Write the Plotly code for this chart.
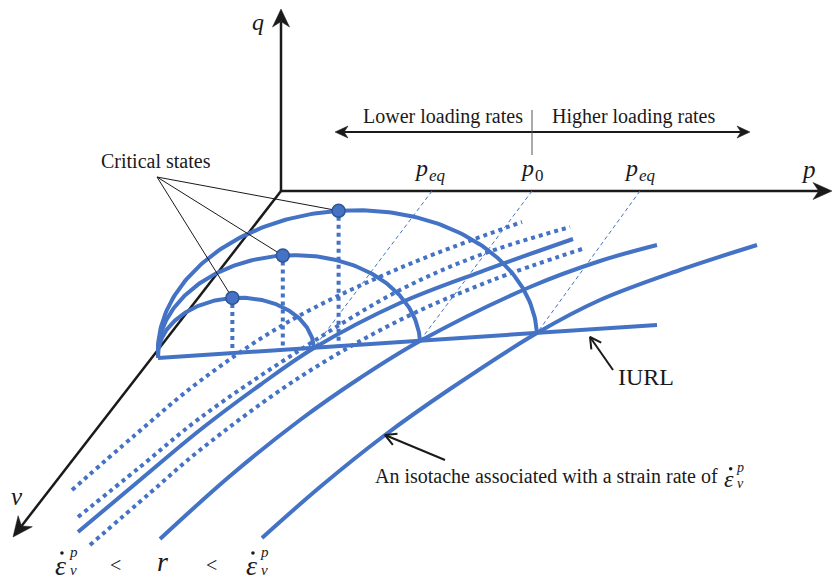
import numpy as np
import plotly.graph_objects as go

W, H = 833, 581
BLUE = "#4472C4"
BLUE_EDGE = "#2F5597"
INK = "#1a1a1a"
SERIF = "Liberation Serif"

# ---------------- geometry (screen units, y grows downward) ----------------
ORIGIN = [281, 191]
Q_TIP = [281, 9]
P_TIP = [832, 191]
V_TIP = [13, 537]

# isotropic unloading-reloading line
IURL_X = [158, 657]
IURL_Y = [358, 325]

# yield surfaces: right ends on the IURL and their heights (q direction)
SURFACE_RIGHT_X = [314, 420, 537]
SURFACE_HEIGHT = [55, 94, 135]

# reference pressures on the p axis
P_MARK_X = [432, 532, 640]
P_SYMBOL_X = [421, 527, 631]
P_SUB_TEXT = ["<i>eq</i>", "0", "<i>eq</i>"]

# solid isotaches
ISO_A_X = [78, 140, 200, 260, 314, 400, 480, 573]
ISO_A_Y = [532, 480, 430, 385, 348, 303, 272, 239]
ISO_B_X = [160, 230, 300, 360, 420, 530, 600, 657]
ISO_B_Y = [539, 476, 420, 378, 341, 287, 261, 245]
ISO_C_X = [262, 320, 385, 450, 537, 600, 680, 757]
ISO_C_Y = [538, 487, 435, 389, 333, 300, 270, 245]

# dotted isotaches
DOT_TOP_X = [72, 135, 200, 288, 400, 522]
DOT_TOP_Y = [490, 435, 381, 322, 268, 222]
DOT_MID_X = [78, 140, 200, 300, 400, 480, 570]
DOT_MID_Y = [517, 467, 418, 350, 290, 255, 227]
DOT_LOW_X = [90, 150, 200, 300, 400, 490, 582]
DOT_LOW_Y = [545, 493, 450, 377, 320, 281, 249]

# loading-rate arrow and divider
RATE_X = [335, 750]
RATE_Y = 132
DIVIDER_X = 532
DIVIDER_Y = [110, 155]

# callouts
CRIT_LABEL = [156, 161]
CRIT_APEX = [157, 177]
IURL_ARROW = [[613, 370], [590, 337]]
ISO_ARROW = [[445, 460], [385, 435]]

# strain-rate ordering along the bottom
RATE_SYMBOL_X = [60, 251]
LESS_X = [115, 211]
R_X = 162

fig = go.Figure()


def add_line(xs, ys, color=BLUE, width=4, dash=None, shape="linear"):
    fig.add_trace(go.Scatter(
        x=list(xs), y=list(ys), mode="lines", hoverinfo="skip", showlegend=False,
        line=dict(color=color, width=width, dash=dash, shape=shape, smoothing=1.0)))


def unit(a, b):
    v = np.array(b, float) - np.array(a, float)
    return v / np.hypot(*v)


def stealth_head(tail, tip, length, half_w, notch=0.3, color=INK):
    d = unit(tail, tip)
    p = np.array([-d[1], d[0]])
    t = np.array(tip, float)
    pts = [t, t - length * d + half_w * p, t - (1 - notch) * length * d,
           t - length * d - half_w * p, t]
    fig.add_trace(go.Scatter(
        x=[q[0] for q in pts], y=[q[1] for q in pts], mode="lines", fill="toself",
        fillcolor=color, line=dict(color=color, width=0.5),
        hoverinfo="skip", showlegend=False))
    return t - (1 - notch) * length * d


def arrow(tail, tip, width=2.5, length=18, half_w=8.5):
    base = stealth_head(tail, tip, length, half_w)
    add_line([tail[0], base[0]], [tail[1], base[1]], color=INK, width=width)


def open_arrow(tail, tip, width=2, length=11, half_w=6):
    d = unit(tail, tip)
    p = np.array([-d[1], d[0]])
    t = np.array(tip, float)
    a = t - length * d + half_w * p
    b = t - length * d - half_w * p
    add_line([tail[0], tip[0]], [tail[1], tip[1]], color=INK, width=width)
    add_line([a[0], t[0], b[0]], [a[1], t[1], b[1]], color=INK, width=width)


def iurl_y(x):
    return float(np.interp(x, IURL_X, IURL_Y))


def surface(x_right, height, n=160):
    xl, yl = IURL_X[0], IURL_Y[0]
    xr, yr = x_right, iurl_y(x_right)
    cx, cy = (xl + xr) / 2, (yl + yr) / 2
    a = np.hypot(xr - xl, yr - yl) / 2
    ux, uy = (xr - xl) / (2 * a), (yr - yl) / (2 * a)
    nx, ny = uy, -ux
    t = np.linspace(0, np.pi, n)
    xs = cx - a * np.cos(t) * ux + height * np.sin(t) * nx
    ys = cy - a * np.cos(t) * uy + height * np.sin(t) * ny
    return xs, ys, (cx + height * nx, cy + height * ny)


# ---------------- axes ----------------
arrow(ORIGIN, Q_TIP)
arrow(ORIGIN, P_TIP, length=19)
arrow(ORIGIN, V_TIP, length=20, half_w=9)

# ---------------- projections from the p axis ----------------
for px, rx in zip(P_MARK_X, SURFACE_RIGHT_X):
    add_line([px, rx], [ORIGIN[1], iurl_y(rx)], width=1, dash="4px,3px")

# ---------------- isotaches ----------------
for xs, ys in [(DOT_TOP_X, DOT_TOP_Y), (DOT_MID_X, DOT_MID_Y), (DOT_LOW_X, DOT_LOW_Y)]:
    add_line(xs, ys, dash="dot", shape="spline")
for xs, ys in [(ISO_A_X, ISO_A_Y), (ISO_B_X, ISO_B_Y), (ISO_C_X, ISO_C_Y)]:
    add_line(xs, ys, shape="spline")

# ---------------- IURL ----------------
add_line(IURL_X, IURL_Y)

# ---------------- yield surfaces and critical states ----------------
apexes = []
for rx, h in zip(SURFACE_RIGHT_X, SURFACE_HEIGHT):
    xs, ys, apex = surface(rx, h)
    add_line(xs, ys)
    apexes.append(apex)
    add_line([apex[0], apex[0]], [apex[1] + 6, iurl_y(apex[0])], dash="dot")

for ax_, ay_ in apexes:
    add_line([CRIT_APEX[0], ax_], [CRIT_APEX[1], ay_], color=INK, width=1)

fig.add_trace(go.Scatter(
    x=[a[0] for a in apexes], y=[a[1] for a in apexes], mode="markers",
    marker=dict(size=13, color=BLUE, line=dict(color=BLUE_EDGE, width=1.5)),
    hoverinfo="skip", showlegend=False))

# ---------------- loading-rate arrow ----------------
lb = stealth_head([RATE_X[1], RATE_Y], [RATE_X[0], RATE_Y], 13, 6)
rb = stealth_head([RATE_X[0], RATE_Y], [RATE_X[1], RATE_Y], 13, 6)
add_line([lb[0], rb[0]], [RATE_Y, RATE_Y], color=INK, width=2)
add_line([DIVIDER_X, DIVIDER_X], DIVIDER_Y, color="#555555", width=1)

# ---------------- callout arrows ----------------
open_arrow(*IURL_ARROW)
open_arrow(*ISO_ARROW)

# ---------------- text ----------------
ann = []
accent_x, accent_y = [], []


def text(x, y, s, size, anchor="center", color=INK):
    ann.append(dict(x=x, y=y, xref="x", yref="y", text=s, showarrow=False,
                    xanchor=anchor, yanchor="middle",
                    font=dict(family=SERIF, size=size, color=color)))


def strain_rate(x, y, size, script):
    # epsilon with an over-dot, stacked superscript p and subscript v
    text(x, y, "<i>ε</i>", size)
    accent_x.append(x + 0.07 * size)
    accent_y.append(y - 0.43 * size)
    gap = 0.58 * script
    mid = y - 0.15 * size
    text(x + 0.47 * size, mid - gap, "<i>p</i>", script)
    text(x + 0.47 * size, mid + gap, "<i>v</i>", script)


text(258, 22, "<i>q</i>", 24)
text(808, 169, "<i>p</i>", 25)
text(17, 496, "<i>v</i>", 25)
text(443, 116, "Lower loading rates", 20)
text(633, 116, "Higher loading rates", 20)
for sx, sub in zip(P_SYMBOL_X, P_SUB_TEXT):
    text(sx, 168, "<i>p</i>", 24)
    text(sx + 6, 175, sub, 17, anchor="left")
text(CRIT_LABEL[0], CRIT_LABEL[1], "Critical states", 20)
text(646, 377, "IURL", 24)
text(373, 476, "An isotache associated with a strain rate of", 20, anchor="left")
strain_rate(729, 479, 24, 14)

for bx in RATE_SYMBOL_X:
    strain_rate(bx, 565, 28, 15)
for lx in LESS_X:
    text(lx, 565, "&lt;", 20)
text(R_X, 561, "<i>r</i>", 28)

fig.add_trace(go.Scatter(
    x=accent_x, y=accent_y, mode="markers",
    marker=dict(size=3.5, color=INK, line=dict(width=0)),
    hoverinfo="skip", showlegend=False))

fig.update_layout(
    width=W, height=H, margin=dict(l=0, r=0, t=0, b=0, pad=0),
    paper_bgcolor="white", plot_bgcolor="white", annotations=ann,
    xaxis=dict(range=[0, W], visible=False, fixedrange=True),
    yaxis=dict(range=[H, 0], visible=False, fixedrange=True),
)

fig.write_html("out.html")
